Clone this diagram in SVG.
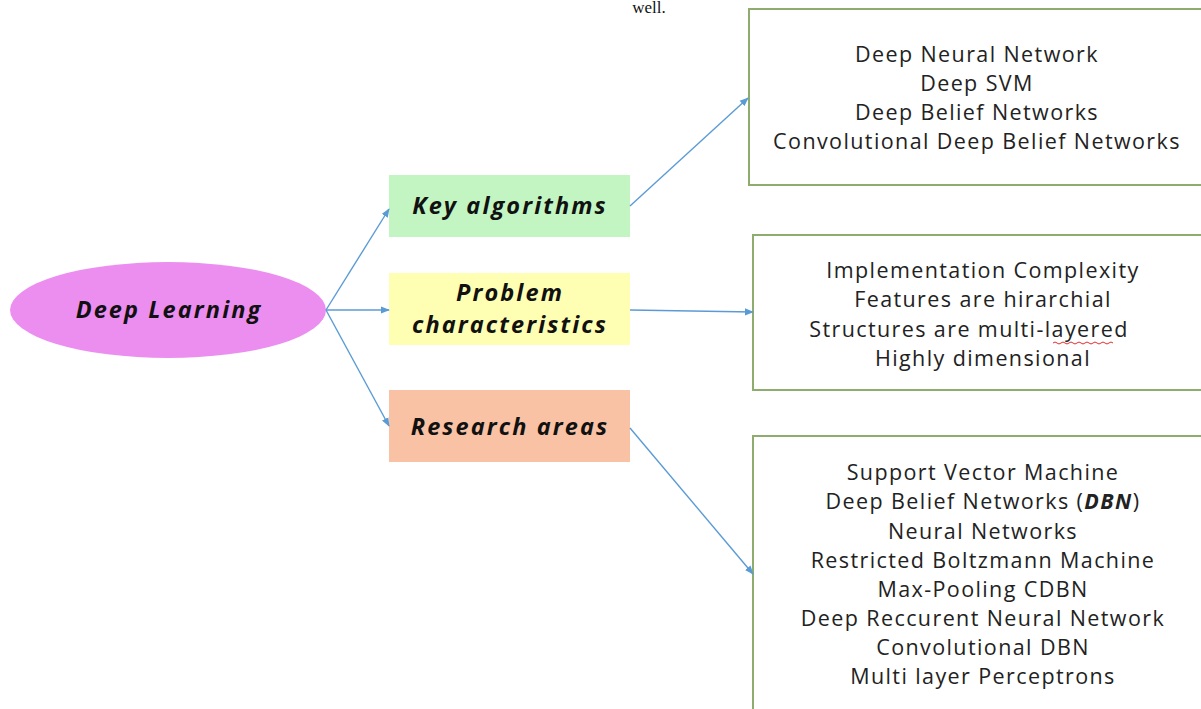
<svg xmlns="http://www.w3.org/2000/svg" width="1201" height="709" viewBox="0 0 1201 709">
<style>
.lbl{font-family:"Open Sans","Liberation Sans",sans-serif;font-weight:bold;font-style:italic;font-size:23.5px;letter-spacing:2.1px;fill:#111;text-anchor:middle}
.item{font-family:"Open Sans","Liberation Sans",sans-serif;font-size:21.5px;letter-spacing:1.4px;fill:#222;text-anchor:middle}
.box{fill:#fff;stroke:#8fac6f;stroke-width:2}
.conn{stroke:#5b9bd5;stroke-width:1.4;fill:none;marker-end:url(#arr)}
</style>
<defs>
<marker id="arr" viewBox="0 0 10 10" refX="9" refY="5" markerWidth="9" markerHeight="9" markerUnits="userSpaceOnUse" orient="auto">
<path d="M0,1 L10,5 L0,9 z" fill="#5b9bd5"/>
</marker>
</defs>
<rect width="1201" height="709" fill="#fff"/>
<text x="649" y="13" font-family="Liberation Serif,serif" font-size="17" text-anchor="middle" fill="#111">well.</text>

<g id="deep-learning">
<ellipse cx="168" cy="310" rx="158" ry="48" fill="#ec8ef0"/>
<text class="lbl" x="169" y="318">Deep Learning</text>
</g>
<g id="key-algorithms">
<rect x="389" y="175" width="241" height="62" fill="#c3f5c3"/>
<text class="lbl" x="510" y="214">Key algorithms</text>
</g>
<g id="problem-characteristics">
<rect x="389" y="273" width="241" height="72" fill="#ffffb3"/>
<text class="lbl" x="510" y="301">Problem</text>
<text class="lbl" x="510" y="333">characteristics</text>
</g>
<g id="research-areas">
<rect x="389" y="390" width="241" height="72" fill="#f9c2a4"/>
<text class="lbl" x="510" y="435">Research areas</text>
</g>

<g id="algorithms-list">
<rect class="box" x="749" y="9" width="460" height="176"/>
<text class="item" x="977" y="61.5">Deep Neural Network</text>
<text class="item" x="977" y="90.5">Deep SVM</text>
<text class="item" x="977" y="120">Deep Belief Networks</text>
<text class="item" x="977" y="149">Convolutional Deep Belief Networks</text>
</g>
<g id="characteristics-list">
<rect class="box" x="753" y="235" width="456" height="155"/>
<text class="item" x="983" y="278">Implementation Complexity</text>
<text class="item" x="983" y="307">Features are hirarchial</text>
<text class="item" x="969" y="337">Structures are multi-layered</text>
<path d="M1053,343 q2,-2 4,0 t4,0 t4,0 t4,0 t4,0 t4,0 t4,0 t4,0 t4,0 t4,0 t4,0 t4,0 t4,0 t4,0 t4,0" fill="none" stroke="#e03030" stroke-width="1"/>
<text class="item" x="983" y="366">Highly dimensional</text>
</g>
<g id="research-list">
<rect class="box" x="753" y="436" width="456" height="290"/>
<text class="item" x="983" y="480">Support Vector Machine</text>
<text class="item" x="983" y="509">Deep Belief Networks (<tspan font-weight="bold" font-style="italic">DBN</tspan>)</text>
<text class="item" x="983" y="538.5">Neural Networks</text>
<text class="item" x="983" y="568">Restricted Boltzmann Machine</text>
<text class="item" x="983" y="597">Max-Pooling CDBN</text>
<text class="item" x="983" y="626">Deep Reccurent Neural Network</text>
<text class="item" x="983" y="655">Convolutional DBN</text>
<text class="item" x="983" y="684">Multi layer Perceptrons</text>
</g>

<g id="connectors">
<line class="conn" x1="326" y1="310" x2="389" y2="209"/>
<line class="conn" x1="326" y1="310" x2="389" y2="310"/>
<line class="conn" x1="326" y1="310" x2="389" y2="426"/>
<line class="conn" x1="630" y1="206" x2="748" y2="98"/>
<line class="conn" x1="630" y1="310" x2="753" y2="312"/>
<line class="conn" x1="630" y1="428" x2="753" y2="574"/>
</g>
</svg>
